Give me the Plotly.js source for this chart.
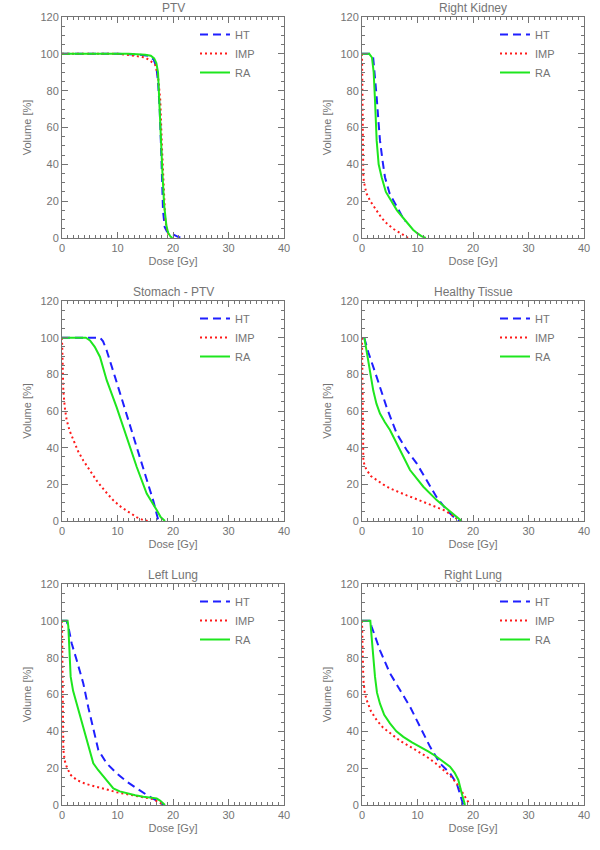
<!DOCTYPE html>
<html>
<head>
<meta charset="utf-8">
<script src="https://cdn.plot.ly/plotly-3.0.1.min.js"></script>
<style>html,body{margin:0;padding:0;background:#fff;}#chart{width:600px;height:850px;}</style>
</head>
<body>
<div id="chart"></div>
<script>
// ---- Data (dose in Gy, volume in %) ----
const panelTitles = ["PTV", "Right Kidney", "Stomach - PTV", "Healthy Tissue", "Left Lung", "Right Lung"];
const seriesNames = ["HT", "IMP", "RA"];

// PTV
const ptvHT_x  = [0, 10, 14, 15.5, 16.5, 17, 17.3, 17.6, 17.9, 18.2, 18.5, 18.9, 19.3, 20, 21, 22];
const ptvHT_y  = [100, 100, 99.5, 99, 97, 93, 85, 70, 45, 15, 6, 3.5, 3, 2, 0.5, 0];
const ptvIMP_x = [0, 10, 13, 15, 16, 16.8, 17.3, 17.7, 18, 18.3, 18.6, 19, 19.5];
const ptvIMP_y = [100, 100, 99, 98, 96, 94, 88, 75, 50, 25, 10, 3, 0];
const ptvRA_x  = [0, 12, 15, 16, 16.6, 17, 17.3, 17.5, 17.8, 18.1, 18.4, 18.8, 19.1, 19.5, 19.9];
const ptvRA_y  = [100, 100, 99.5, 99, 97.5, 95, 90, 75, 55, 35, 18, 7, 3, 1, 0];

// Right Kidney
const rkHT_x  = [0, 1.5, 2.0, 2.3, 2.64, 3.0, 3.24, 3.7, 4.14, 5.0, 6.25, 7.0, 7.75];
const rkHT_y  = [100, 100, 98.4, 90, 76.7, 62, 53, 42, 33, 24, 17, 12.5, 8.9];
const rkIMP_x = [0, 0.03, 0.06, 0.1, 0.24, 0.5, 0.84, 1.5, 2.64, 3.5, 4.44, 5.6, 6.85, 7.6, 8.3];
const rkIMP_y = [100, 85, 65, 47, 33, 28, 24, 20, 15, 11, 8, 5, 2.8, 1.2, 0];
const rkRA_x  = [0, 1.3, 1.8, 2.1, 2.34, 2.64, 3.0, 3.54, 4.3, 5.34, 6.3, 7.4, 8.4, 9.2, 10.0, 10.7, 11.5];
const rkRA_y  = [100, 100, 98, 90, 75, 53, 40, 33, 25, 20, 15, 11, 7.2, 4.5, 2.5, 1, 0];

// Stomach - PTV
const stHT_x  = [0, 5, 6.85, 7.4, 8.05, 9.55, 11.05, 12.55, 14.05, 15.26, 16.45, 17.3, 17.9];
const stHT_y  = [100, 100, 100, 98, 93, 78.6, 64, 49.6, 35, 22, 11, 1, 0];
const stIMP_x = [0, 0.05, 0.12, 0.24, 0.5, 0.84, 1.4, 2.04, 2.9, 3.84, 5.0, 6.25, 7.7, 9.2, 10.7, 12.2, 13.5, 14.65, 15.5];
const stIMP_y = [100, 90, 80, 71, 62, 55, 49, 44, 38, 33, 27.5, 22, 16.5, 11.4, 7.5, 4.3, 2, 0.5, 0];
const stRA_x  = [0, 4.3, 5.04, 5.9, 6.85, 8.05, 9.85, 11.65, 13.45, 15.26, 16.3, 17.06, 17.8, 18.56];
const stRA_y  = [100, 100, 98.5, 95, 89.5, 76.8, 62, 46, 29.6, 15, 10, 6, 2, 0];

// Healthy Tissue
const htHT_x  = [0.4, 1.14, 2.64, 4.44, 6.25, 8.05, 9.85, 11.65, 13.45, 15.26, 16.3, 17.06, 17.6];
const htHT_y  = [100, 92, 78.6, 62, 47.7, 38.7, 31.4, 22.3, 13, 6, 3, 0.6, 0];
const htIMP_x = [0, 0.04, 0.09, 0.15, 0.24, 0.5, 0.84, 1.6, 2.64, 3.8, 5.04, 6.5, 8.05, 9.5, 11.05, 12.3, 13.45, 14.7, 15.86, 16.8, 17.66];
const htIMP_y = [100, 80, 60, 42, 33, 30, 27.8, 24.5, 22.3, 20, 17.8, 15.8, 14, 12.3, 10.5, 9, 7.7, 6, 4, 2, 0];
const htRA_x  = [0.42, 0.8, 1.14, 1.6, 2.04, 2.6, 3.24, 4.1, 5.04, 6.85, 8.65, 11.05, 13.45, 15.56, 17.06, 17.96];
const htRA_y  = [100, 93, 86, 78, 71, 64, 58.6, 54, 49.6, 38.7, 27.8, 18.7, 11.4, 6, 2.3, 0];

// Left Lung
const llHT_x  = [0, 0.84, 1.2, 1.74, 2.64, 3.84, 4.74, 5.64, 6.54, 8.05, 9.85, 11.65, 13.45, 15.26, 17.06, 18.26];
const llHT_y  = [100, 100, 96, 87.8, 78.7, 66, 53, 40.7, 29.9, 22.6, 17.2, 12.7, 9, 5.5, 2.4, 0];
const llIMP_x = [0, 0.04, 0.1, 0.17, 0.24, 0.5, 0.84, 1.5, 2.64, 4.2, 6.25, 8.0, 9.85, 12.0, 14.05, 16.46, 17.66, 18.26];
const llIMP_y = [100, 80, 55, 40, 30, 24, 20.8, 16.5, 13.6, 11.5, 10, 8.5, 6.9, 5.6, 4.5, 3.2, 1.2, 0];
const llRA_x  = [0, 1.0, 1.14, 1.26, 1.4, 1.56, 2.0, 2.64, 3.4, 4.14, 4.9, 5.64, 6.5, 7.45, 8.4, 9.25, 10.4, 11.65, 13.2, 14.65, 16.0, 17.06, 17.66, 18.56];
const llRA_y  = [100, 100, 97, 87.8, 78, 69.7, 62, 55, 47, 39, 30, 22.6, 19, 15.4, 11.8, 9, 7.4, 6.3, 5.3, 4.5, 4, 3.6, 2.4, 0];

// Right Lung
const rlHT_x  = [0, 1.5, 1.74, 3.24, 5.04, 6.85, 8.65, 10.45, 12.25, 14.05, 15.86, 17.06, 17.66, 18.26];
const rlHT_y  = [100, 100, 96.8, 84, 71.5, 62.4, 53.4, 42.5, 31.7, 22.6, 17.2, 11.8, 5.5, 0];
const rlIMP_x = [0, 0.04, 0.1, 0.24, 0.5, 0.84, 1.6, 2.64, 3.8, 5.04, 6.8, 8.65, 10.2, 11.65, 13.2, 14.65, 16.0, 17.06, 17.9, 18.56, 19.46];
const rlIMP_y = [100, 88, 76, 67.9, 61, 57, 51, 46.1, 42, 39, 35, 31.7, 28.8, 26.2, 22.8, 19, 15.5, 11.8, 8, 4.5, 0];
const rlRA_x  = [0, 1.5, 1.74, 2.0, 2.34, 2.7, 3.24, 4.0, 5.04, 6.2, 7.45, 9.0, 10.45, 12.0, 13.45, 14.7, 15.86, 16.7, 17.36, 17.96, 18.3, 18.56];
const rlRA_y  = [100, 100, 91, 80, 69.7, 61, 55, 49, 44.3, 40, 37, 34, 31.7, 29, 26.2, 23.5, 20.8, 17.5, 13.6, 6.4, 2.5, 0];

const xTickVals = [0, 10, 20, 30, 40];
const yTickVals = [0, 20, 40, 60, 80, 100, 120];

const panelData = [
  [[ptvHT_x, ptvHT_y], [ptvIMP_x, ptvIMP_y], [ptvRA_x, ptvRA_y]],
  [[rkHT_x, rkHT_y], [rkIMP_x, rkIMP_y], [rkRA_x, rkRA_y]],
  [[stHT_x, stHT_y], [stIMP_x, stIMP_y], [stRA_x, stRA_y]],
  [[htHT_x, htHT_y], [htIMP_x, htIMP_y], [htRA_x, htRA_y]],
  [[llHT_x, llHT_y], [llIMP_x, llIMP_y], [llRA_x, llRA_y]],
  [[rlHT_x, rlHT_y], [rlIMP_x, rlIMP_y], [rlRA_x, rlRA_y]]
];

// ---- Styles ----
const grey = "#747474";
const fontFam = "Liberation Sans, Arial, sans-serif";
const lineStyles = [
  {color: "#1f1fff", width: 2, dash: "8px,5px"},
  {color: "#ff1a1a", width: 2, dash: "2px,3px"},
  {color: "#1ee61e", width: 2, dash: "solid"}
];

const W = 600, H = 850;
const colX = [[62, 284], [362, 584]];
const rowY = [[17, 238], [301, 521], [584, 805]];

const traces = [];
const layout = {
  width: W, height: H,
  margin: {l: 0, r: 0, t: 0, b: 0},
  paper_bgcolor: "#fff", plot_bgcolor: "#fff",
  font: {family: fontFam, color: grey, size: 11},
  annotations: []
};

for (let p = 0; p < 6; p++) {
  const col = p % 2, row = Math.floor(p / 2);
  const ax = p === 0 ? "" : String(p + 1);
  const xd = [colX[col][0] / W, colX[col][1] / W];
  const yd = [1 - rowY[row][1] / H, 1 - rowY[row][0] / H];
  const axisCommon = {
    showgrid: false, zeroline: false, showline: true, linecolor: grey, linewidth: 1,
    mirror: "allticks", ticks: "inside", tickcolor: grey, ticklen: 6, tickwidth: 1,
    tickfont: {family: fontFam, color: grey, size: 11}
  };
  layout["xaxis" + ax] = Object.assign({}, axisCommon, {
    domain: xd, range: [0, 40], tickvals: xTickVals, ticktext: xTickVals.map(String),
    anchor: "y" + ax,
    minor: {dtick: 1, tick0: 0, ticks: "inside", ticklen: 3, tickcolor: grey, tickwidth: 1, showgrid: false},
    title: {text: "Dose [Gy]", font: {family: fontFam, color: grey, size: 11}, standoff: 4}
  });
  layout["yaxis" + ax] = Object.assign({}, axisCommon, {
    domain: yd, range: [0, 120], tickvals: yTickVals, ticktext: yTickVals.map(String),
    anchor: "x" + ax,
    minor: {dtick: 5, tick0: 0, ticks: "inside", ticklen: 3, tickcolor: grey, tickwidth: 1, showgrid: false},
    title: {text: "Volume [%]", font: {family: fontFam, color: grey, size: 11}, standoff: 6}
  });
  const legName = p === 0 ? "legend" : "legend" + (p + 1);
  layout[legName] = {
    x: (colX[col][0] + 133) / W, y: 1 - (rowY[row][0] + 3) / H,
    xanchor: "left", yanchor: "top",
    bgcolor: "rgba(0,0,0,0)", borderwidth: 0,
    font: {family: fontFam, color: grey, size: 11},
    tracegroupgap: 0, itemwidth: 30
  };
  layout.annotations.push({
    text: panelTitles[p], showarrow: false,
    xref: "paper", yref: "paper",
    x: (xd[0] + xd[1]) / 2, y: 1 - (rowY[row][0] - 9) / H, xanchor: "center", yanchor: "middle",
    font: {family: fontFam, color: grey, size: 12}
  });
  for (let s = 0; s < 3; s++) {
    traces.push({
      type: "scatter", mode: "lines",
      x: panelData[p][s][0], y: panelData[p][s][1],
      xaxis: "x" + ax, yaxis: "y" + ax,
      name: seriesNames[s], legend: legName, showlegend: true,
      line: Object.assign({}, lineStyles[s]),
      hoverinfo: "skip", cliponaxis: true
    });
  }
}

Plotly.newPlot("chart", traces, layout, {staticPlot: true, displayModeBar: false});
</script>
</body>
</html>
